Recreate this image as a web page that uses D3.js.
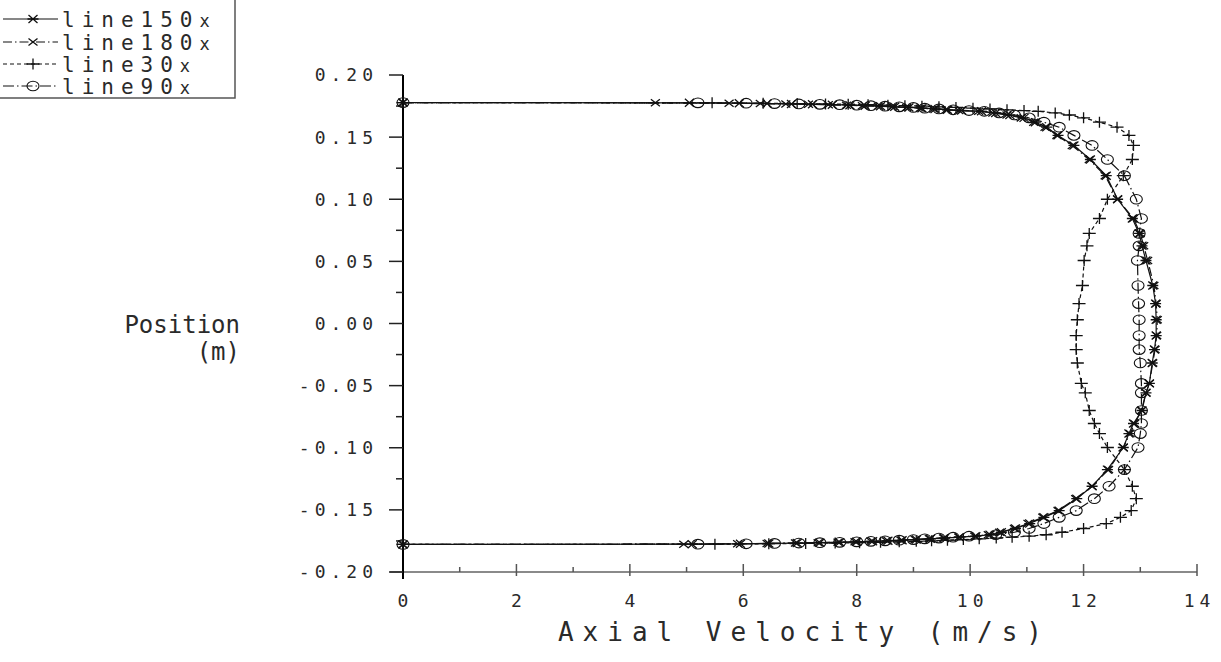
<!DOCTYPE html>
<html>
<head>
<meta charset="utf-8">
<script src="https://cdn.jsdelivr.net/npm/d3@7"></script>
<style>
  body { margin: 0; background: #fff; }
  svg { display: block; }
  text { font-family: "DejaVu Sans Mono", monospace; fill: #2a2a2a; }
</style>
</head>
<body>
<div id="chart"></div>
<script>
// radial positions along each sampling line (m), wall to wall
const positions = [0.1778,
  0.1776, 0.1773, 0.1770, 0.1767, 0.1764, 0.1761, 0.1757, 0.1753, 0.1749, 0.1744, 0.1739, 0.1733, 0.1727, 0.1720, 0.1714,
  0.1708, 0.1695, 0.1678, 0.1655, 0.1620, 0.1580, 0.1514, 0.1433, 0.1320, 0.1190,
  0.1000, 0.0845, 0.0725, 0.0625, 0.0507, 0.0306, 0.0160, 0.0030, -0.0097, -0.0210,
  -0.0318, -0.0482, -0.0558, -0.0700, -0.0805, -0.0886, -0.0998, -0.1176, -0.1310, -0.1410,
  -0.1506, -0.1560, -0.1610, -0.1650, -0.1680, -0.1700,
  -0.1712, -0.1720, -0.1727, -0.1733, -0.1739, -0.1744, -0.1749, -0.1753, -0.1757, -0.1761, -0.1764, -0.1767, -0.1770, -0.1773, -0.1776,
  -0.1778];

// axial velocity (m/s) per line
const line150x = [0,
  5.05, 5.93, 6.42, 6.85, 7.22, 7.57, 7.88, 8.15, 8.42, 8.67, 8.92, 9.15, 9.38, 9.60, 9.85,
  10.20, 10.45, 10.70, 10.95, 11.15, 11.35, 11.55, 11.83, 12.12, 12.40,
  12.60, 12.86, 12.98, 13.03, 13.10, 13.22, 13.27, 13.28, 13.28, 13.25,
  13.21, 13.16, 13.10, 13.03, 12.88, 12.80, 12.70, 12.42, 12.15, 11.88,
  11.57, 11.30, 11.05, 10.80, 10.55, 10.35,
  10.10, 9.81, 9.55, 9.30, 9.05, 8.80, 8.55, 8.28, 8.00, 7.70, 7.35, 6.95, 6.45, 5.95, 5.10,
  0];
const line180x = [0,
  4.45, 5.75, 6.30, 6.75, 7.15, 7.50, 7.82, 8.10, 8.38, 8.63, 8.88, 9.12, 9.35, 9.58, 9.80,
  10.15, 10.40, 10.65, 10.90, 11.12, 11.32, 11.53, 11.80, 12.10, 12.38,
  12.60, 12.88, 13.00, 13.06, 13.13, 13.24, 13.28, 13.30, 13.29, 13.26,
  13.22, 13.16, 13.10, 13.02, 12.90, 12.82, 12.70, 12.44, 12.15, 11.86,
  11.55, 11.28, 11.02, 10.78, 10.52, 10.32,
  10.08, 9.80, 9.53, 9.28, 9.03, 8.78, 8.52, 8.25, 7.97, 7.67, 7.32, 6.92, 6.42, 5.90, 4.95,
  0];
const line30x = [0,
  5.45, 6.35, 6.95, 7.45, 7.85, 8.20, 8.55, 8.85, 9.15, 9.45, 9.75, 10.05, 10.35, 10.65, 10.95,
  11.20, 11.50, 11.75, 12.00, 12.28, 12.59, 12.80, 12.88, 12.86, 12.70,
  12.42, 12.28, 12.10, 12.06, 12.01, 11.98, 11.92, 11.89, 11.87, 11.87,
  11.89, 11.96, 12.03, 12.10, 12.19, 12.28, 12.42, 12.72, 12.86, 12.93,
  12.84, 12.65, 12.40, 12.00, 11.62, 11.34,
  11.04, 10.74, 10.46, 10.16, 9.88, 9.60, 9.32, 9.05, 8.75, 8.42, 8.05, 7.62, 7.10, 6.45, 5.50,
  0];
const line90x = [0,
  5.20, 6.05, 6.55, 6.98, 7.35, 7.70, 8.00, 8.25, 8.50, 8.75, 9.00, 9.20, 9.45, 9.70, 9.98,
  10.25, 10.51, 10.78, 11.04, 11.30, 11.57, 11.83, 12.15, 12.42, 12.72,
  12.93, 13.02, 12.98, 12.98, 12.95, 12.96, 12.97, 12.98, 12.98, 12.98,
  13.00, 13.02, 13.02, 13.02, 13.02, 13.00, 12.96, 12.72, 12.45, 12.19,
  11.87, 11.57, 11.30, 11.04, 10.78, 10.45,
  9.98, 9.70, 9.45, 9.20, 9.00, 8.75, 8.50, 8.25, 8.00, 7.70, 7.35, 6.98, 6.55, 6.05, 5.20,
  0];

const seriesNames = ['line150x', 'line180x', 'line30x', 'line90x'];
const seriesValues = [line150x, line180x, line30x, line90x];
const xTicks = [0, 2, 4, 6, 8, 10, 12, 14];
const yTicks = [0.20, 0.15, 0.10, 0.05, 0.00, -0.05, -0.10, -0.15, -0.20];

const W = 1221, H = 662;
const svg = d3.select('#chart').append('svg').attr('width', W).attr('height', H);

const x = d3.scaleLinear().domain([0, 14]).range([403, 1197]);
const y = d3.scaleLinear().domain([-0.2, 0.2]).range([572, 75]);

/* ---- line + marker styles ---- */
const styles = {
  line150x: { dash: null,         marker: 'star' },
  line180x: { dash: '9,3,1.5,3',  marker: 'cross' },
  line30x:  { dash: '4,3',        marker: 'plus' },
  line90x:  { dash: '11,3,1.5,3', marker: 'circle' }
};

function drawMarker(g, type, cx, cy) {
  if (type === 'circle') {
    g.append('ellipse').attr('cx', cx).attr('cy', cy).attr('rx', 6).attr('ry', 4.8)
      .attr('fill', 'none').attr('stroke', '#111').attr('stroke-width', 1.1);
    return;
  }
  let d = '';
  if (type === 'plus') d = `M${cx-6.5},${cy}H${cx+6.5}M${cx},${cy-5.5}V${cy+5.5}`;
  if (type === 'cross') d = `M${cx-4.5},${cy-3.5}L${cx+4.5},${cy+3.5}M${cx-4.5},${cy+3.5}L${cx+4.5},${cy-3.5}`;
  if (type === 'star') d = `M${cx-4.5},${cy-4}L${cx+4.5},${cy+4}M${cx-4.5},${cy+4}L${cx+4.5},${cy-4}M${cx-5.5},${cy}H${cx+5.5}`;
  g.append('path').attr('d', d).attr('fill', 'none').attr('stroke', '#111').attr('stroke-width', 1.3);
}

/* ---- axes ---- */
const axes = svg.append('g');
// x axis (grey)
axes.append('line').attr('x1', 390).attr('x2', x(14)).attr('y1', y(-0.2)).attr('y2', y(-0.2))
  .attr('stroke', '#8a8a8a').attr('stroke-width', 2);
d3.range(0, 15).forEach(v => {
  const major = v % 2 === 0;
  axes.append('line').attr('x1', x(v)).attr('x2', x(v))
    .attr('y1', y(-0.2) - (major ? 8 : 5)).attr('y2', y(-0.2) + (major ? 4 : 0))
    .attr('stroke', '#555').attr('stroke-width', 1.5);
});
// y axis (black)
axes.append('line').attr('x1', x(0)).attr('x2', x(0)).attr('y1', y(0.2)).attr('y2', y(-0.2) + 7)
  .attr('stroke', '#000').attr('stroke-width', 2);
d3.range(-8, 9).forEach(k => {
  const v = k * 0.025;
  const major = k % 2 === 0;
  axes.append('line').attr('x1', x(0) - (major ? 14 : 7)).attr('x2', x(0))
    .attr('y1', y(v)).attr('y2', y(v)).attr('stroke', '#222').attr('stroke-width', 1.5);
});

const tickLS = 5;
axes.selectAll('.ylab').data(yTicks).enter().append('text')
  .attr('x', 373 + tickLS).attr('y', d => y(d)).attr('dy', '0.36em')
  .attr('text-anchor', 'end').style('font-size', '18px').style('letter-spacing', tickLS + 'px')
  .text(d => d3.format('.2f')(d).replace('−', '-'));
axes.selectAll('.xlab').data(xTicks).enter().append('text')
  .attr('x', d => x(d) + tickLS / 2).attr('y', 601).attr('dy', '0.36em')
  .attr('text-anchor', 'middle').style('font-size', '18px').style('letter-spacing', tickLS + 'px')
  .text(d => d);

// axis titles
const titleLS = 9;
svg.append('text').attr('x', 800 + titleLS / 2).attr('y', 641).attr('text-anchor', 'middle')
  .style('font-size', '26px').style('letter-spacing', titleLS + 'px').text('Axial Velocity (m/s)');
svg.append('text').attr('x', 240).attr('y', 333).attr('text-anchor', 'end')
  .style('font-size', '24px').text('Position');
svg.append('text').attr('x', 240).attr('y', 360).attr('text-anchor', 'end')
  .style('font-size', '24px').text('(m)');

/* ---- series ---- */
const line = d3.line().x(d => x(d.v)).y(d => y(d.p));
seriesNames.forEach((name, i) => {
  const pts = seriesValues[i].map((v, j) => ({ v, p: positions[j] }));
  const st = styles[name];
  const g = svg.append('g');
  g.append('path').datum(pts).attr('d', line)
    .attr('fill', 'none').attr('stroke', '#111').attr('stroke-width', 1.2)
    .attr('stroke-dasharray', st.dash);
  pts.forEach(d => drawMarker(g, st.marker, x(d.v), y(d.p)));
});

/* ---- legend ---- */
const leg = svg.append('g');
leg.append('path').attr('d', 'M0,98H235V0').attr('fill', 'none')
  .attr('stroke', '#555').attr('stroke-width', 1.5);
const rowY = [19, 42, 64, 86];
seriesNames.forEach((name, i) => {
  const st = styles[name];
  leg.append('line').attr('x1', 3).attr('x2', 58).attr('y1', rowY[i]).attr('y2', rowY[i])
    .attr('stroke', '#111').attr('stroke-width', 1.2).attr('stroke-dasharray', st.dash);
  drawMarker(leg, st.marker, 33, rowY[i]);
  const t = leg.append('text').attr('x', 62).attr('y', rowY[i]).attr('dy', '0.36em')
    .style('font-size', '21px').style('letter-spacing', '7px');
  t.append('tspan').text(name.slice(0, -1));
  t.append('tspan').style('font-size', '17px').text('x');
});
</script>
</body>
</html>
